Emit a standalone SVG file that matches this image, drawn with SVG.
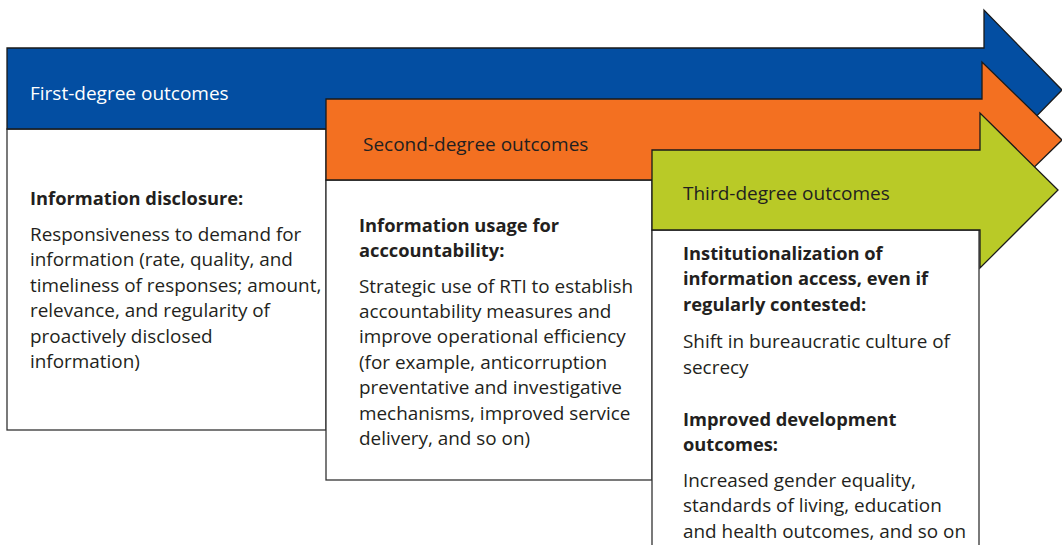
<svg xmlns="http://www.w3.org/2000/svg" width="1062" height="545" viewBox="0 0 1062 545">
<style>
.arrow{stroke:#1a1a1a;stroke-width:1.3;stroke-linejoin:miter}
.box{fill:#fff;stroke:#333;stroke-width:1.3}
.hd{font-family:"Open Sans","Noto Sans",sans-serif;font-size:19px}
.b{font-family:"Open Sans","Noto Sans",sans-serif;font-size:18.9px;fill:#231f20}
.bb{font-weight:bold;font-size:18.3px}
</style>
<rect width="1062" height="545" fill="#fff"/>
<g id="first">
<rect class="box" x="7" y="129" width="319" height="301"/>
<path class="arrow" fill="#034ea2" d="M7,48 H984 V10 L1062,90 L984,170 V129 H7 Z"/>
</g>
<g id="second">
<rect class="box" x="326" y="180" width="326" height="300"/>
<path class="arrow" fill="#f37021" d="M326,99 H982 V62 L1062,140 L982,218 V180 H326 Z"/>
</g>
<g id="third">
<rect class="box" x="652" y="230" width="327" height="330"/>
<path class="arrow" fill="#b9ca27" d="M652,150 H980 V113 L1058,190 L980,268 V230 H652 Z"/>
</g>
<g id="labels">
<text class="hd" x="30" y="100" fill="#fff">First-degree outcomes</text>
<text class="hd" x="363" y="151" fill="#231f20">Second-degree outcomes</text>
<text class="hd" x="683" y="200" fill="#231f20">Third-degree outcomes</text>
</g>
<g id="text1" class="b">
<text x="30" y="205" class="bb">Information disclosure:</text>
<text x="30" y="241">Responsiveness to demand for</text>
<text x="30" y="266">information (rate, quality, and</text>
<text x="30" y="292">timeliness of responses; amount,</text>
<text x="30" y="317">relevance, and regularity of</text>
<text x="30" y="343">proactively disclosed</text>
<text x="30" y="368">information)</text>
</g>
<g id="text2" class="b">
<text x="359" y="232" class="bb">Information usage for</text>
<text x="359" y="257" class="bb">acccountability:</text>
<text x="359" y="293">Strategic use of RTI to establish</text>
<text x="359" y="318">accountability measures and</text>
<text x="359" y="343">improve operational efficiency</text>
<text x="359" y="369">(for example, anticorruption</text>
<text x="359" y="394">preventative and investigative</text>
<text x="359" y="420">mechanisms, improved service</text>
<text x="359" y="445">delivery, and so on)</text>
</g>
<g id="text3" class="b">
<text x="683" y="260" class="bb">Institutionalization of</text>
<text x="683" y="285" class="bb">information access, even if</text>
<text x="683" y="311" class="bb">regularly contested:</text>
<text x="683" y="348">Shift in bureaucratic culture of</text>
<text x="683" y="374">secrecy</text>
<text x="683" y="426" class="bb">Improved development</text>
<text x="683" y="451" class="bb">outcomes:</text>
<text x="683" y="487">Increased gender equality,</text>
<text x="683" y="512">standards of living, education</text>
<text x="683" y="538">and health outcomes, and so on</text>
</g>
</svg>
